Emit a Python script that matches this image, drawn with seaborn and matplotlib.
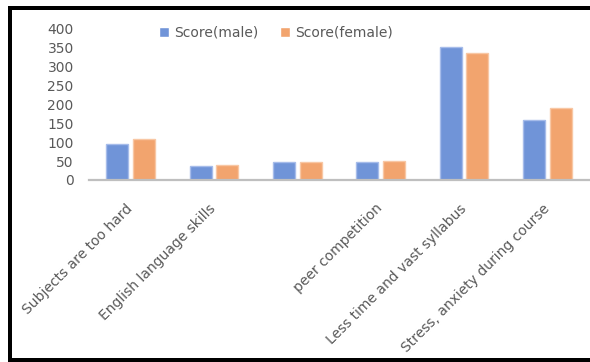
import matplotlib
matplotlib.use("Agg")
import matplotlib.pyplot as plt
from matplotlib.patches import Rectangle
import pandas as pd
import seaborn as sns

# the third group carries no axis label
categories = [
    "Subjects are too hard",
    "English language skills",
    "",
    "peer competition",
    "Less time and vast syllabus",
    "Stress, anxiety during course",
]
series_names = ["Score(male)", "Score(female)"]
male_scores = [95, 37, 47, 47, 352, 159]
female_scores = [108, 40, 47, 50, 337, 192]
y_ticks = [0, 50, 100, 150, 200, 250, 300, 350, 400]

df = pd.DataFrame({
    "category": categories * 2,
    "series": [series_names[0]] * len(categories) + [series_names[1]] * len(categories),
    "score": male_scores + female_scores,
})

sns.set_theme(style="white")
plt.rcParams["font.family"] = ["DejaVu Sans"]

W, H = 590, 362
fig = plt.figure(figsize=(W / 100, H / 100), dpi=100)
fig.patch.set_facecolor("white")
ax = fig.add_axes([89 / W, (H - 180) / H, 500 / W, 151 / H])

fill_colors = {"Score(male)": "#7094D8", "Score(female)": "#F2A46E"}
edge_colors = ["#A6BCEA"] * len(categories) + ["#F8C7A4"] * len(categories)

sns.barplot(
    data=df, x="category", y="score", hue="series",
    order=categories, hue_order=series_names,
    palette=fill_colors, saturation=1, width=0.64, gap=0.17,
    ax=ax, legend=True,
)
for patch, ec in zip(ax.patches, edge_colors):
    patch.set_edgecolor(ec)
    patch.set_linewidth(1.0)

ax.set_xlim(-0.5, 5.5)
ax.set_ylim(0, 400)
ax.set_yticks(y_ticks)
ax.set_yticklabels([str(v) for v in y_ticks], fontsize=10, color="#595959")
ax.set_xticks(range(len(categories)))
ax.set_xticklabels(categories, fontsize=10, color="#595959",
                   rotation=45, ha="right", va="center", rotation_mode="anchor")
ax.tick_params(axis="both", length=0)
ax.tick_params(axis="y", pad=11)
ax.tick_params(axis="x", pad=19)
ax.set_xlabel("")
ax.set_ylabel("")
for side in ["top", "right", "left"]:
    ax.spines[side].set_visible(False)
ax.spines["bottom"].set_color("#BFBFBF")
ax.spines["bottom"].set_linewidth(1.6)
ax.set_facecolor("none")

handles, labels = ax.get_legend_handles_labels()
ax.legend(handles, labels, loc="center", bbox_to_anchor=(276 / W, (H - 33) / H),
          bbox_transform=fig.transFigure, ncol=2, frameon=False,
          fontsize=10, labelcolor="#595959", handlelength=0.7, handleheight=0.7,
          handletextpad=0.35, columnspacing=1.6, borderpad=0)

# black frame on the left, top and bottom edges
frame_kw = dict(transform=None, facecolor="black", edgecolor="none", zorder=10)
fig.add_artist(Rectangle((8, 0), 4, H - 6, **frame_kw))
fig.add_artist(Rectangle((8, H - 10), W - 8, 4, **frame_kw))
fig.add_artist(Rectangle((8, 0), W - 8, 4, **frame_kw))

fig.savefig("out.png", dpi=100, facecolor="white")
